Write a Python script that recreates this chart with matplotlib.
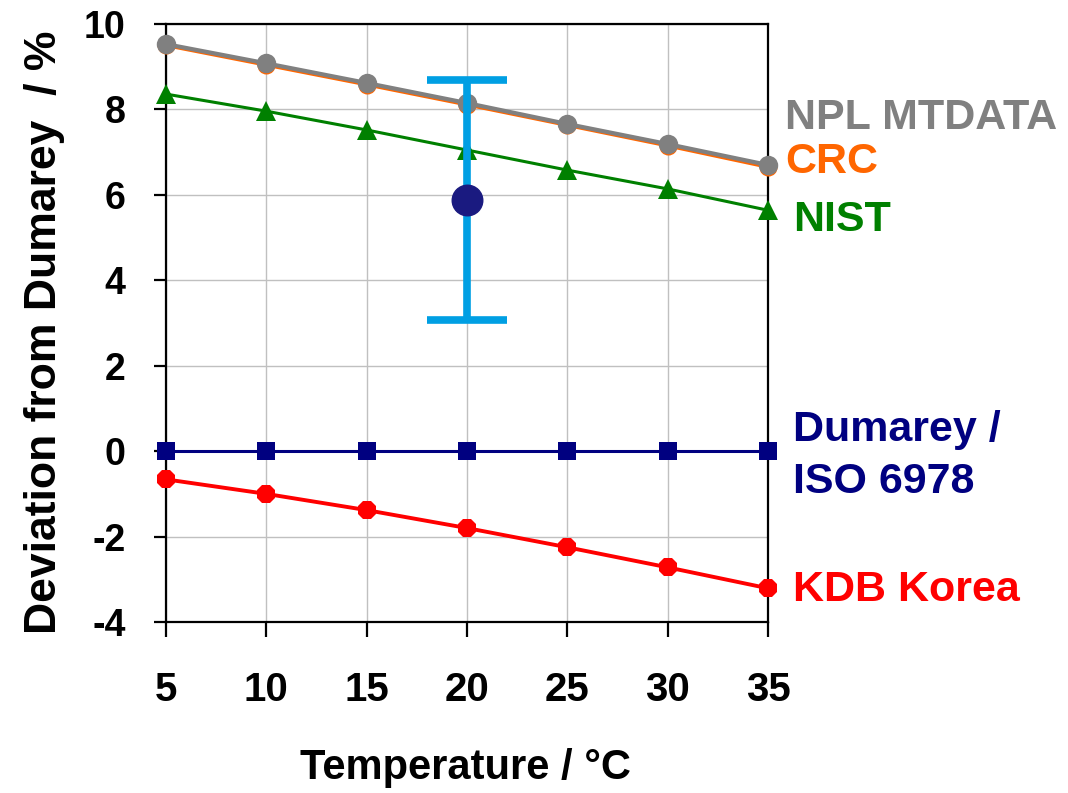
import matplotlib
matplotlib.use("Agg")
from matplotlib import pyplot as plt

plt.rcParams["font.family"] = ["Liberation Sans", "DejaVu Sans"]
plt.rcParams["font.weight"] = "bold"
plt.rcParams["axes.unicode_minus"] = False

temps = [5, 10, 15, 20, 25, 30, 35]
npl = [9.53, 9.08, 8.62, 8.15, 7.66, 7.19, 6.70]
crc = [9.50, 9.04, 8.58, 8.11, 7.63, 7.15, 6.65]
nist = [8.36, 7.96, 7.52, 7.05, 6.58, 6.14, 5.64]
dumarey = [0, 0, 0, 0, 0, 0, 0]
kdb = [-0.66, -1.00, -1.38, -1.80, -2.25, -2.72, -3.21]

meas_t = [20]
meas_v = [5.88]
meas_err = [2.81]

xticks = [5, 10, 15, 20, 25, 30, 35]
yticks = [-4, -2, 0, 2, 4, 6, 8, 10]


fig = plt.figure(figsize=(10.68, 7.93), dpi=100)
ax = fig.add_axes([0.1554, 0.2156, 0.5637, 0.7541])

ax.plot(temps, crc, color='#FF6600', lw=2.5, marker='o', ms=13,
        markeredgewidth=0, clip_on=False, zorder=3)
ax.plot(temps, npl, color='#808080', lw=3, marker='o', ms=14,
        markeredgewidth=0, clip_on=False, zorder=4)
ax.plot(temps, nist, color='#008000', lw=2.2, marker='^', ms=14,
        markeredgewidth=0, clip_on=False, zorder=4)
ax.plot(temps, dumarey, color='#000080', lw=2.2, marker='s', ms=12.5,
        markeredgewidth=0, clip_on=False, zorder=4)
ax.plot(temps, kdb, color='#FF0000', lw=2.8, marker='8', ms=14,
        markeredgewidth=0, clip_on=False, zorder=4)

ax.errorbar(meas_t, meas_v, yerr=meas_err, fmt='none', ecolor='#009FE3',
            elinewidth=5.5, capsize=29, capthick=5.5, zorder=5)
ax.plot(meas_t, meas_v, 'o', color='#1A1A80', ms=22, zorder=6)

ax.set_xlim(5, 35)
ax.set_ylim(-4, 10)
ax.set_xticks(xticks)
ax.set_yticks(yticks)
ax.grid(True, color='#C0C0C0', lw=1)
ax.set_axisbelow(True)

for s in ax.spines.values():
    s.set_linewidth(1.6)
    s.set_color('black')

ax.tick_params(axis='x', direction='out', length=11, width=1.6, pad=24,
               labelsize=29)
ax.tick_params(axis='y', direction='out', length=9, width=1.6, pad=20,
               labelsize=27)

fig.text(0.042, 0.581, 'Deviation from Dumarey  / %', rotation=90,
         ha='center', va='center', fontsize=32, fontweight='bold')
fig.text(0.436, 0.032, 'Temperature / \u00b0C', ha='center', va='center',
         fontsize=30, fontweight='bold')

ax.text(35.85, 7.80, 'NPL MTDATA', color='#808080', fontsize=31,
        fontweight='bold', va='center', ha='left', clip_on=False)
ax.text(35.85, 6.77, 'CRC', color='#FF6600', fontsize=31,
        fontweight='bold', va='center', ha='left', clip_on=False)
ax.text(36.25, 5.41, 'NIST', color='#008000', fontsize=31,
        fontweight='bold', va='center', ha='left', clip_on=False)
ax.text(36.25, -0.12, 'Dumarey /\nISO 6978', color='#000080', fontsize=31,
        fontweight='bold', va='center', ha='left', linespacing=1.4,
        clip_on=False)
ax.text(36.25, -3.26, 'KDB Korea', color='#FF0000', fontsize=31,
        fontweight='bold', va='center', ha='left', clip_on=False)

fig.savefig('out.png', dpi=100)
